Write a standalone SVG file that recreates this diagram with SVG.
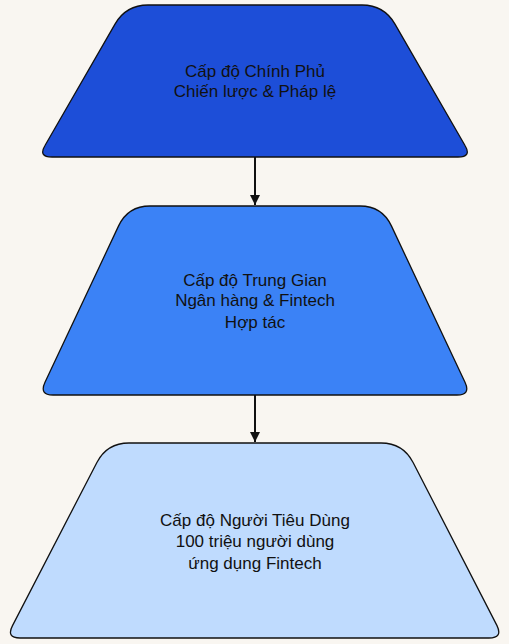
<svg xmlns="http://www.w3.org/2000/svg" width="509" height="644" viewBox="0 0 509 644">
<defs>
<style>
.node path{stroke:#111;stroke-width:1.3}
.lbl{font-family:"Liberation Sans",Arial,sans-serif;font-size:17px;fill:#111;text-anchor:middle}
.edge{stroke:#111;stroke-width:2;fill:none}
</style>
<marker id="arr" viewBox="0 0 10 10" refX="10" refY="5" markerWidth="10" markerHeight="10" markerUnits="userSpaceOnUse" orient="auto">
<path d="M0,0 L10,5 L0,10 Z" fill="#111"/>
</marker>
</defs>
<rect width="509" height="644" fill="#f9f6f1"/>
<g id="edges">
<line class="edge" x1="255" y1="157" x2="255" y2="205" marker-end="url(#arr)"/>
<line class="edge" x1="255" y1="395" x2="255" y2="442" marker-end="url(#arr)"/>
</g>
<g id="gov" class="node">
<path fill="#1d4ed8" d="M148,5 L362,5 Q384,5 395,24.1 L465,145.5 Q472,157 458,157 L52,157 Q38,157 45,145.5 L115,24.1 Q126,5 148,5 Z"/>
<text class="lbl" x="255" y="77">Cấp độ Chính Phủ</text>
<text class="lbl" x="255" y="97">Chiến lược &amp; Pháp lệ</text>
</g>
<g id="mid" class="node">
<path fill="#3b82f6" d="M150,206 L360,206 Q382,206 391.4,225.9 L465,382.3 Q471,395 457,395 L53,395 Q39,395 45,382.3 L118.6,225.9 Q128,206 150,206 Z"/>
<text class="lbl" x="255" y="286">Cấp độ Trung Gian</text>
<text class="lbl" x="255" y="306">Ngân hàng &amp; Fintech</text>
<text class="lbl" x="255" y="328">Hợp tác</text>
</g>
<g id="consumer" class="node">
<path fill="#bfdbfe" d="M129,443 L381,443 Q403,443 413.1,462.5 L497,625.6 Q503,638 489,638 L20,638 Q6,638 12.5,625.6 L96.9,462.5 Q107,443 129,443 Z"/>
<text class="lbl" x="255" y="526">Cấp độ Người Tiêu Dùng</text>
<text class="lbl" x="255" y="547">100 triệu người dùng</text>
<text class="lbl" x="255" y="569">ứng dụng Fintech</text>
</g>
</svg>
